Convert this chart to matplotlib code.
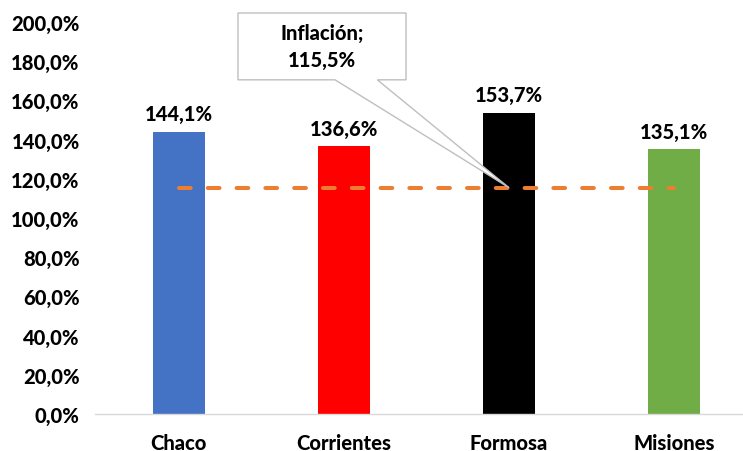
import matplotlib.pyplot as plt
from matplotlib.patches import Polygon
from matplotlib.ticker import FuncFormatter

provincias = ["Chaco", "Corrientes", "Formosa", "Misiones"]
variacion = [144.1, 136.6, 153.7, 135.1]
colores = ["#4472C4", "#FF0000", "#000000", "#70AD47"]
inflacion = 115.5

plt.rcParams["font.family"] = ["Lato", "DejaVu Sans"]
plt.rcParams["font.weight"] = 900
FS = 14.5
FW = 900


def pct(v):
    return f"{v:.1f}%".replace(".", ",")


fig = plt.figure(figsize=(7.43, 4.52), dpi=100)
ax = fig.add_axes([95 / 743, 37 / 452, 648 / 743, 392 / 452])

x = list(range(len(provincias)))
bars = ax.bar(x, variacion, width=0.315, color=colores, zorder=2)
ax.bar_label(bars, labels=[pct(v) for v in variacion], padding=6,
             fontsize=FS, fontweight=FW)

ax.plot(x, [inflacion] * len(x), color="#ED7D31", lw=2.9, ls=(0, (2.9, 4.25)),
        dash_capstyle="round", zorder=3)

ax.set_xlim(-0.507, 3.418)
ax.set_ylim(0, 200)
ax.set_yticks(range(0, 201, 20))
ax.yaxis.set_major_formatter(FuncFormatter(lambda v, p: pct(v)))
ax.set_xticks(x)
ax.set_xticklabels(provincias)
ax.tick_params(axis="both", length=0, labelsize=FS)
ax.tick_params(axis="y", pad=11)
ax.tick_params(axis="x", pad=14)
for lab in ax.get_xticklabels() + ax.get_yticklabels():
    lab.set_fontweight(FW)
for s in ["top", "right", "left"]:
    ax.spines[s].set_visible(False)
ax.spines["bottom"].set_color("#D9D9D9")
ax.spines["bottom"].set_linewidth(1)

# callout box for inflation
bx0, bx1, by0, by1 = 0.359, 1.377, 170.5, 204.6
wx0, wx1 = 0.947, 1.203
tip = (x[2], inflacion)
callout = Polygon([(bx0, by0), (bx0, by1), (bx1, by1), (bx1, by0), (wx1, by0),
                   tip, (wx0, by0)], closed=True, facecolor="white",
                  edgecolor="#BFBFBF", lw=1, clip_on=False, zorder=5)
ax.add_patch(callout)
ax.text((bx0 + bx1) / 2, (by0 + by1) / 2, "Inflación;\n" + pct(inflacion),
        ha="center", va="center", fontsize=FS, fontweight=FW,
        linespacing=1.5, zorder=6)

fig.savefig("out.png", dpi=100)
